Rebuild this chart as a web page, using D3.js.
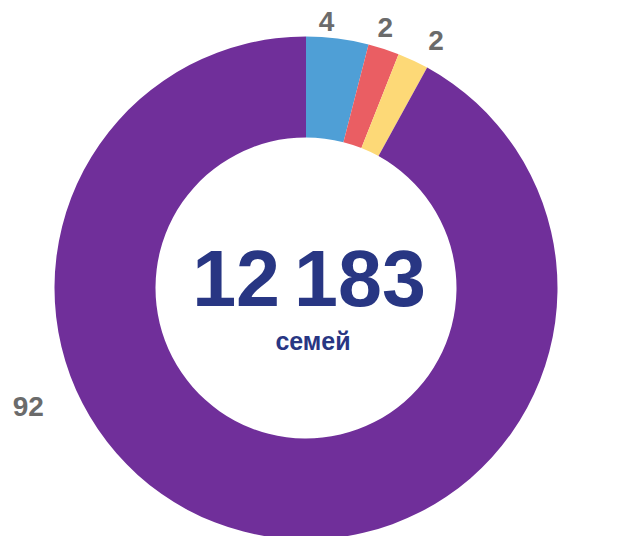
<!DOCTYPE html>
<html>
<head>
<meta charset="utf-8">
<script src="https://cdn.jsdelivr.net/npm/d3@7"></script>
<style>
  html, body { margin: 0; padding: 0; background: #fff; }
  svg { display: block; font-family: "Liberation Sans", Arial, sans-serif; }
</style>
</head>
<body>
<div id="chart"></div>
<script>
'use strict';

// slice data (share of families, %)
const categories = ["a", "b", "c", "d"];
const values = [4, 2, 2, 92];
const valueLabels = ["4", "2", "2", "92"];
const colors = ["#4f9fd6", "#ea5e63", "#fdd977", "#702f9a"];
const totalParts = ["12", "183"];
const totalCaption = "семей";

(function() {
  const width = 636, height = 536;
  const cx = 306, cy = 288;
  const outerR = 251.5, innerR = 150.5;

  const svg = d3.select('#chart')
    .append('svg')
    .attr('width', width)
    .attr('height', height);

  const g = svg.append('g')
    .attr('transform', `translate(${cx}, ${cy})`);

  const pie = d3.pie().sort(null).value((d) => d.value);
  const arc = d3.arc().innerRadius(innerR).outerRadius(outerR);

  const rows = categories.map((c, i) => ({ name: c, value: values[i], label: valueLabels[i], color: colors[i] }));
  const arcs = pie(rows);

  g.selectAll('path')
    .data(arcs)
    .enter()
    .append('path')
    .attr('d', arc)
    .attr('fill', (d) => d.data.color);

  // label placement: small slices sit just above the ring, nudged apart like the original
  const labelNudge = [-2.8, -1.1, 2.5, 52.5]; // degrees
  const labelR = [268, 273, 280, 302];
  g.selectAll('.val')
    .data(arcs)
    .enter()
    .append('text')
    .attr('class', 'val')
    .attr('x', (d, i) => {
      const a = (d.startAngle + d.endAngle) / 2 + labelNudge[i] * Math.PI / 180;
      return labelR[i] * Math.sin(a);
    })
    .attr('y', (d, i) => {
      const a = (d.startAngle + d.endAngle) / 2 + labelNudge[i] * Math.PI / 180;
      return -labelR[i] * Math.cos(a) + 10;
    })
    .attr('text-anchor', 'middle')
    .style('font-size', '28px')
    .style('font-weight', 'bold')
    .style('fill', '#6b6b6b')
    .text((d) => d.data.label);

  // total in the hole
  const total = g.append('text')
    .attr('x', 3)
    .attr('y', 18)
    .attr('text-anchor', 'middle')
    .style('font-size', '79px')
    .style('font-weight', 'bold')
    .style('fill', '#283683');
  total.append('tspan').text(totalParts[0]);
  total.append('tspan').attr('dx', 14).text(totalParts[1]);

  g.append('text')
    .attr('x', 7)
    .attr('y', 62)
    .attr('text-anchor', 'middle')
    .style('font-size', '25px')
    .style('font-weight', 'bold')
    .style('fill', '#283683')
    .text(totalCaption);
})();
</script>
</body>
</html>
